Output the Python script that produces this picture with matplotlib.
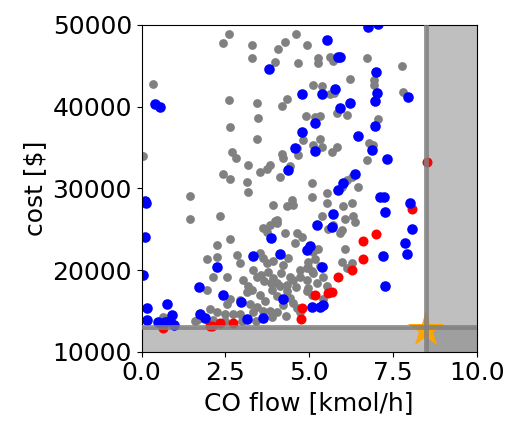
import matplotlib
matplotlib.use("Agg")
import matplotlib.pyplot as plt

# ---- data ----
gray_x = [2.61, 2.42, 3.28, 3.28, 4.08, 4.28, 4.61, 4.93, 3.98, 4.68, 5.27, 5.27, 5.62, 5.72, 6.72, 7.76,
          0.35, 6.22, 5.12, 5.37, 5.62, 6.95, 6.95, 7.81, 2.61, 3.45, 4.33, 4.18, 5.75,
          5.82, 6.12, 4.90, 5.17, 5.32, 3.48, 2.64, 7.06, 3.44, 5.32, 5.37, 5.12, 5.82, 5.67, 4.83, 6.80, 6.90,
          4.18, 4.23, 4.63, 4.68, 6.72, 0.05, 2.69, 2.82, 3.18, 3.53, 3.73, 3.83, 4.43, 2.44, 2.64, 3.13, 3.18,
          4.13, 6.12, 5.97, 6.47, 5.07, 6.27,
          5.52, 6.27, 1.44, 1.44, 2.34, 3.93, 4.33, 4.48, 4.53, 5.52, 6.02, 6.32, 6.37, 6.07, 5.07, 4.03, 3.83,
          3.63, 3.73, 5.37, 5.57, 5.72, 5.92, 5.97, 4.03, 3.98,
          4.28, 4.63, 4.78, 2.64, 2.24, 2.24, 2.84, 2.94, 1.94, 3.33, 3.43, 3.73, 4.58, 5.12, 5.17, 5.27, 5.32,
          4.98, 4.93, 6.07, 5.97, 6.27, 6.12, 3.53, 3.63, 3.93, 4.23, 4.38, 4.73,
          2.14, 2.54, 1.94, 3.03, 3.18, 3.13, 3.28, 3.93, 4.03, 4.13, 3.88, 4.03, 4.43, 4.53, 4.73, 4.93, 5.12,
          4.98, 5.07, 4.33, 4.43, 4.53, 4.93, 5.07, 4.98, 2.64, 2.54, 2.94, 2.04, 2.24, 2.49, 2.74, 2.94, 3.33,
          3.63, 3.83, 4.03, 1.64, 1.74, 2.14, 0.65, 0.80, 3.53, 3.68, 3.78, 4.23, 4.63, 3.43, 3.23, 4.73, 5.22,
          5.42, 5.52, 5.42, 1.60, 2.00, 2.50, 3.00, 3.40, 3.90, 4.30, 3.55, 3.65, 3.85, 4.15, 4.35, 4.60]
gray_y = [48900, 47750, 47600, 45900, 47000, 47900, 48900, 47600, 45500, 45400, 46000, 45300, 46100, 45600, 45900, 45000,
          42800, 43400, 42700, 42500, 41600, 43300, 42600, 41800, 40800, 40400, 40900, 40100, 41700,
          39200, 39000, 38800, 38700, 38800, 38600, 37500, 38500, 36000, 36100, 35100, 35300, 35100, 34500, 35900, 35600, 35300,
          34200, 33700, 34900, 34100, 33500, 34000, 34400, 33700, 32800, 32000, 32400, 32900, 32700, 31800, 31200, 30800, 29600,
          31400, 31000, 30200, 30200, 30600, 31400,
          29400, 28200, 29100, 26200, 26600, 28000, 27800, 28600, 28000, 28200, 27800, 26600, 25900, 26200, 29000, 26100, 25500,
          25100, 24700, 26600, 25000, 25500, 24500, 24900, 25700, 26000,
          24500, 24500, 24100, 23800, 23100, 21600, 21800, 20800, 21400, 20000, 19200, 20800, 23300, 22200, 21300, 22600, 20500,
          21000, 20200, 22600, 21000, 20800, 20300, 22100, 21500, 21100, 20600, 21500, 20000,
          19200, 19200, 17500, 18800, 18000, 17300, 17600, 19000, 18400, 18000, 17600, 16800, 19200, 18800, 19200, 18800, 19600,
          20400, 19900, 17400, 16600, 16000, 17400, 17000, 17800, 16500, 15900, 16300, 15200, 14800, 14600, 14600, 14600, 14800,
          15000, 15000, 14800, 13900, 14100, 13900, 14300, 13900, 17000, 16200, 19700, 15700, 15300, 15500, 15800, 14900, 18400,
          19200, 18000, 16500, 13700, 13600, 13700, 13800, 13800, 14200, 14400, 19400, 18700, 18400, 19600, 18200, 17900]

red_x = [8.53, 8.08, 7.00, 6.60, 6.60, 6.27, 5.87, 5.57, 5.67, 5.17, 4.78, 4.76, 2.34, 2.74, 2.09, 0.65, 2.04]
red_y = [33200, 27500, 24400, 23500, 21300, 20000, 19100, 17200, 17300, 16900, 15400, 14000, 13500, 13500, 13200, 12900, 13100]

blue_x = [6.77, 7.06, 5.52, 3.81, 5.87, 5.92, 7.00, 0.40, 0.55, 4.78, 5.37, 5.77, 7.02, 6.97, 6.22, 5.92, 7.96,
          5.17, 6.97, 4.78, 6.47, 4.58, 5.17, 6.87, 7.33, 4.38, 6.37, 6.00, 5.87, 7.10, 7.22, 7.26, 8.00, 0.10,
          0.12, 0.10, 0.05, 5.72, 5.22, 5.67, 8.06, 7.86, 7.93, 7.21, 3.86, 5.02, 4.93, 4.13, 3.33, 2.24, 5.37,
          7.26, 1.72, 2.42, 4.23, 2.97, 5.07, 5.32, 5.42, 0.15, 0.75, 0.15, 1.74, 1.89, 0.90, 0.50, 0.70, 0.85,
          0.95, 3.13, 3.63]
blue_y = [49800, 50100, 48200, 44600, 46100, 46100, 44300, 40300, 39900, 41500, 41500, 42200, 41700, 40700, 40400, 39800, 41200,
          38000, 37600, 36900, 36400, 34900, 34600, 34700, 33600, 32300, 31800, 30600, 29800, 28900, 28900, 27100, 28200, 28400,
          28200, 24000, 19400, 26900, 25500, 25300, 25000, 23300, 22000, 21700, 23900, 23000, 22400, 22000, 21700, 20400, 20400,
          18000, 17900, 16900, 16500, 16100, 15500, 15500, 15700, 15300, 15800, 13900, 14600, 14100, 14500, 13600, 13600, 13700,
          13300, 14000, 14100]

x_limit = 8.5
cost_limit = 13000
star_x = [8.5]
star_y = [12600]

x_ticks = [0.0, 2.5, 5.0, 7.5, 10.0]
y_ticks = [10000, 20000, 30000, 40000, 50000]

# ---- figure ----
fig = plt.figure(figsize=(5.06, 4.22), dpi=100)
ax = fig.add_axes([0.280, 0.1666, 0.662, 0.7742])

ax.axvspan(x_limit, 10, color="gray", alpha=0.5, lw=0, zorder=1)
ax.axhspan(10000, cost_limit, color="gray", alpha=0.5, lw=0, zorder=1)

ax.scatter(gray_x, gray_y, s=40, color="gray", zorder=2, linewidths=0)
ax.scatter(red_x, red_y, s=52, color="red", zorder=2.1, linewidths=0)
ax.scatter(blue_x, blue_y, s=58, color="blue", zorder=2.2, linewidths=0)

ax.plot(star_x, star_y, marker="*", ms=27, color="orange", ls="none", zorder=3, mew=0)

ax.axvline(x_limit, color="gray", lw=3.5, alpha=0.85, zorder=4)
ax.axhline(cost_limit, color="gray", lw=3.5, alpha=0.85, zorder=4)

ax.set_xlim(0, 10)
ax.set_ylim(10000, 50000)
ax.set_xticks(x_ticks)
ax.set_yticks(y_ticks)
ax.tick_params(labelsize=18)
ax.set_xlabel("CO flow [kmol/h]", fontsize=18)
ax.set_ylabel("cost [\\$]", fontsize=18)

fig.savefig("out.png", dpi=100)
